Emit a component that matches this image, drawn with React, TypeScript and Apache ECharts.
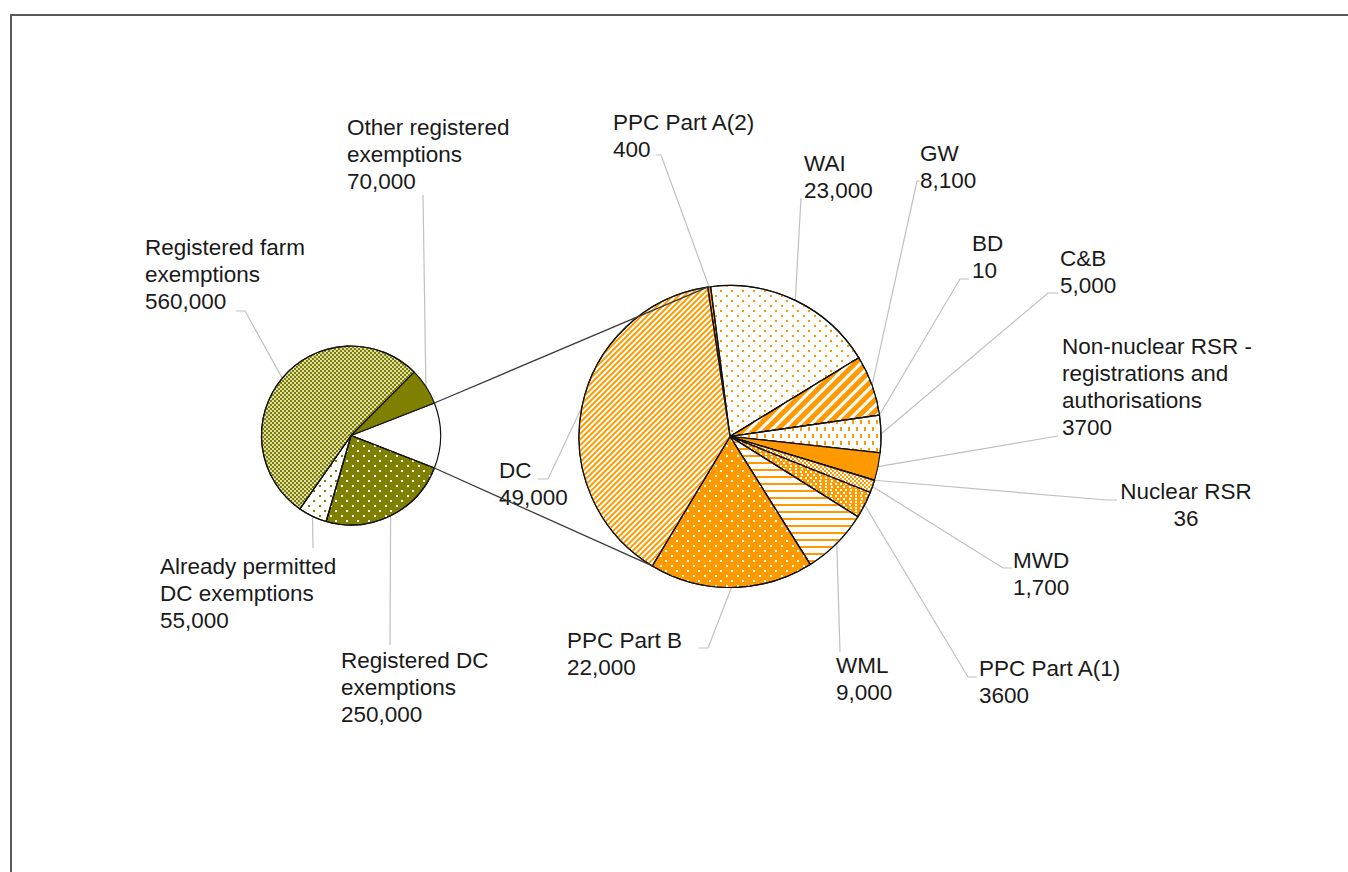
import React, { useEffect, useRef } from 'react';
import * as echarts from 'echarts';

// ---------- DATA ----------
// Primary pie (the first slice is the "split" slice, shown in detail on the right)
const mainNames = [
  'Registered DC exemptions',
  'Already permitted DC exemptions',
  'Registered farm exemptions',
  'Other registered exemptions',
];
const mainValues = [250000, 55000, 560000, 70000];
const mainLabelNames = [
  'Registered DC\nexemptions',
  'Already permitted\nDC exemptions',
  'Registered farm\nexemptions',
  'Other registered\nexemptions',
];
const mainValueLabels = ['250,000', '55,000', '560,000', '70,000'];

// Secondary pie
const detailNames = [
  'PPC Part A(2)', 'WAI', 'GW', 'BD', 'C&B', 'Non-nuclear RSR - registrations and authorisations',
  'Nuclear RSR', 'MWD', 'PPC Part A(1)', 'WML', 'PPC Part B', 'DC',
];
const detailValues = [400, 23000, 8100, 10, 5000, 3700, 36, 1700, 3600, 9000, 22000, 49000];
const detailLabelNames = [
  'PPC Part A(2)', 'WAI', 'GW', 'BD', 'C&B', 'Non-nuclear RSR -\nregistrations and\nauthorisations',
  'Nuclear RSR', 'MWD', 'PPC Part A(1)', 'WML', 'PPC Part B', 'DC',
];
const detailValueLabels = ['400', '23,000', '8,100', '10', '5,000', '3700', '36', '1,700', '3600', '9,000', '22,000', '49,000'];

// ---------- STYLE / LAYOUT ----------
const ORANGE = '#ff9900';
const OLIVE = '#808000';
const TEXT = '#1a1a1a';
const FONT = 'Liberation Sans, Arial, sans-serif';

const LEFT_CENTER: [number, number] = [351, 435.5];
const LEFT_R = 89.5;
const RIGHT_CENTER: [number, number] = [730, 436.5];
const RIGHT_R = 151;
const RIGHT_START = 98.5;

function dots(color: string, s: number, px: number, py: number) {
  const g = px - s;
  const h = px / 2;
  return {
    symbol: 'rect',
    symbolSize: 1,
    color,
    dashArrayX: [[s, g], [0, h, s, px - h - s]],
    dashArrayY: [s, py - s],
  };
}
function stripes(color: string, w: number, gap: number, rotation: number) {
  return {
    symbol: 'rect',
    symbolSize: 1,
    color,
    dashArrayX: [8, 0],
    dashArrayY: [w, gap],
    rotation,
  };
}

const detailStyles: any[] = [
  { color: ORANGE },
  { color: '#ffffff', decal: dots(ORANGE, 1.6, 10, 4.5) },
  { color: ORANGE, decal: stripes('#ffffff', 2.4, 5, -Math.PI / 4) },
  { color: ORANGE },
  { color: '#ffffff', decal: { symbol: 'rect', symbolSize: 1, color: ORANGE, dashArrayX: [[1.5, 5.5], [0, 3.5, 1.5, 2]], dashArrayY: [4, 3] } },
  { color: ORANGE },
  { color: ORANGE },
  { color: '#ffffff', decal: dots(ORANGE, 1.5, 3, 1.5) },
  { color: ORANGE, decal: dots('#ffffff', 1.5, 4.5, 2.25) },
  { color: '#ffffff', decal: stripes(ORANGE, 2, 4.3, 0) },
  { color: ORANGE, decal: dots('#ffffff', 1.6, 10, 4.5) },
  { color: '#ffffff', decal: stripes(ORANGE, 1.5, 1.5, -Math.PI / 4) },
];
const mainStyles: any[] = [
  { color: OLIVE, decal: dots('#ffffff', 1.6, 10, 4.5) },
  { color: '#ffffff', decal: dots(OLIVE, 1.6, 10, 4.5) },
  { color: '#dcdcac', decal: dots(OLIVE, 1.5, 3, 1.5) },
  { color: OLIVE },
];

// label positions (top-left of text block) and leader-line path from the label side
type LP = { x: number; y: number; align: string; line: number[][] };
const mainLabelPos: LP[] = [
  { x: 341, y: 646.5, align: 'left', line: [[390, 645]] },
  { x: 160, y: 552.5, align: 'left', line: [[313, 548]] },
  { x: 145, y: 233.5, align: 'left', line: [[245, 311], [236, 311]] },
  { x: 347, y: 113.5, align: 'left', line: [[423, 195]] },
];
const detailLabelPos: LP[] = [
  { x: 613, y: 108.5, align: 'left', line: [[661, 155], [656, 155]] },
  { x: 804, y: 149.5, align: 'left', line: [[801, 198]] },
  { x: 920, y: 140, align: 'left', line: [[917, 181], [920, 181]] },
  { x: 972, y: 230, align: 'left', line: [[960, 279], [969, 279]] },
  { x: 1060, y: 245, align: 'left', line: [[1048, 293], [1058, 293]] },
  { x: 1062, y: 332.5, align: 'left', line: [[1058, 436]] },
  { x: 1186, y: 478, align: 'center', line: [[1107, 500], [1117, 500]] },
  { x: 1013, y: 546.5, align: 'left', line: [[1003, 568], [1012, 568]] },
  { x: 979, y: 655, align: 'left', line: [[968, 677], [977, 677]] },
  { x: 836, y: 651.5, align: 'left', line: [[840, 652]] },
  { x: 567, y: 627, align: 'left', line: [[708, 648], [699, 648]] },
  { x: 499, y: 457, align: 'left', line: [[548, 479], [538, 479]] },
];

function makeLayout(pos: (LP | null)[]) {
  return (params: any) => {
    const p = pos[params.dataIndex];
    if (!p) return {};
    const pts = params.labelLinePoints;
    const out: any = { x: p.x, y: p.y, align: p.align, verticalAlign: 'top' };
    if (pts && pts.length) out.labelLinePoints = [pts[0], ...p.line];
    return out;
  };
}

const labelStyle = {
  show: true,
  position: 'outside',
  color: TEXT,
  fontFamily: FONT,
  fontSize: 22.5,
  lineHeight: 27,
};
const labelLineStyle = {
  show: true,
  length: 10,
  length2: 10,
  lineStyle: { color: '#c0c0c0', width: 1.2 },
};

function pt(c: [number, number], r: number, deg: number): [number, number] {
  const a = (deg * Math.PI) / 180;
  return [c[0] + r * Math.cos(a), c[1] - r * Math.sin(a)];
}

export default function App() {
  const ref = useRef<HTMLDivElement>(null);
  useEffect(() => {
    if (!ref.current) return;
    const chart = echarts.init(ref.current, undefined, { renderer: 'svg' });

    const otherValue = detailValues.reduce((a, b) => a + b, 0);
    const mainTotal = otherValue + mainValues.reduce((a, b) => a + b, 0);
    const whiteSpan = (otherValue / mainTotal) * 360;
    const leftStart = whiteSpan / 2;

    const dcStart = RIGHT_START - ((otherValue - detailValues[detailValues.length - 1]) / otherValue) * 360;
    const lu = pt(LEFT_CENTER, LEFT_R, leftStart);
    const ll = pt(LEFT_CENTER, LEFT_R, -leftStart);
    const ru = pt(RIGHT_CENTER, RIGHT_R, RIGHT_START);
    const rl = pt(RIGHT_CENTER, RIGHT_R, dcStart);

    const mainData: any[] = [
      {
        name: 'Other',
        value: otherValue,
        itemStyle: { color: '#ffffff' },
        label: { show: false },
        labelLine: { show: false },
      },
      ...mainNames.map((n, i) => ({ name: n, value: mainValues[i], itemStyle: mainStyles[i] })),
    ];
    const detailData = detailNames.map((n, i) => ({ name: n, value: detailValues[i], itemStyle: detailStyles[i] }));

    chart.setOption({
      animation: false,
      backgroundColor: '#ffffff',
      graphic: [
        {
          type: 'rect',
          shape: { x: 11, y: 15, width: 1400, height: 900 },
          style: { fill: 'none', stroke: '#595959', lineWidth: 2 },
          silent: true,
          z: 0,
        },
        {
          type: 'line',
          shape: { x1: lu[0], y1: lu[1], x2: ru[0], y2: ru[1] },
          style: { stroke: '#3a3a3a', lineWidth: 1.3 },
          silent: true,
          z: 10,
        },
        {
          type: 'line',
          shape: { x1: ll[0], y1: ll[1], x2: rl[0], y2: rl[1] },
          style: { stroke: '#3a3a3a', lineWidth: 1.3 },
          silent: true,
          z: 10,
        },
      ],
      series: [
        {
          type: 'pie',
          center: LEFT_CENTER,
          radius: LEFT_R,
          startAngle: leftStart,
          clockwise: true,
          avoidLabelOverlap: false,
          minShowLabelAngle: 0,
          itemStyle: { borderColor: '#111', borderWidth: 1.2 },
          emphasis: { disabled: true },
          label: {
            ...labelStyle,
            formatter: (p: any) => `${mainLabelNames[p.dataIndex - 1]}\n${mainValueLabels[p.dataIndex - 1]}`,
          },
          labelLine: labelLineStyle,
          labelLayout: makeLayout([null, ...mainLabelPos]),
          data: mainData,
        },
        {
          type: 'pie',
          center: RIGHT_CENTER,
          radius: RIGHT_R,
          startAngle: RIGHT_START,
          clockwise: true,
          avoidLabelOverlap: false,
          minShowLabelAngle: 0,
          itemStyle: { borderColor: '#111', borderWidth: 1.2 },
          emphasis: { disabled: true },
          label: {
            ...labelStyle,
            formatter: (p: any) => `${detailLabelNames[p.dataIndex]}\n${detailValueLabels[p.dataIndex]}`,
          },
          labelLine: labelLineStyle,
          labelLayout: makeLayout(detailLabelPos),
          data: detailData,
        },
      ],
    });
    return () => chart.dispose();
  }, []);

  return (
    <div
      ref={ref}
      style={{ position: 'absolute', left: 0, top: 0, width: 1348, height: 872, background: '#fff' }}
    />
  );
}
